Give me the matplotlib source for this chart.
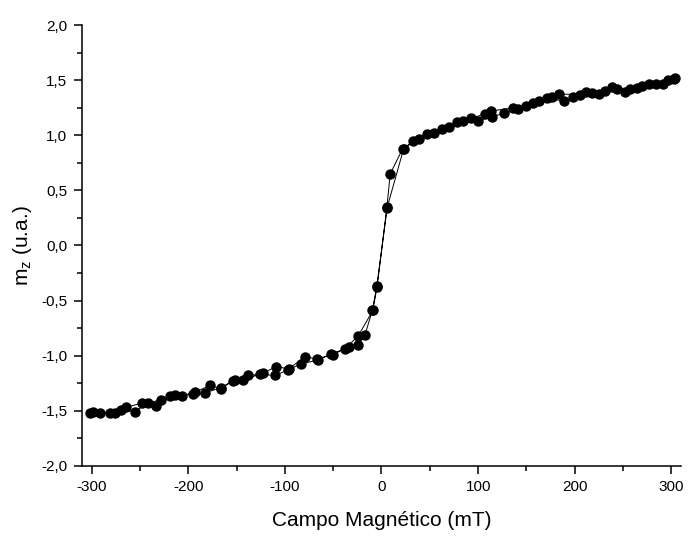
import matplotlib
matplotlib.use("Agg")
import matplotlib.pyplot as plt
from matplotlib.ticker import MultipleLocator, FuncFormatter

plt.rcParams['font.family'] = ['Liberation Sans', 'DejaVu Sans']

# ramo subindo (-300 -> 300)
campo_sobe = [-302, -291, -276, -264, -248, -233, -219, -206, -193, -177, -166,
              -154, -138, -126, -110, -97, -83, -66, -52, -38, -24, -9, -4.5,
              5.5, 9, 22, 39, 54, 70, 84, 100, 114, 127, 141, 157, 171, 189,
              198, 212, 225, 238, 252, 264, 277, 291, 303]
mz_sobe = [-1.52, -1.52, -1.52, -1.47, -1.43, -1.46, -1.37, -1.365, -1.33, -1.27,
           -1.30, -1.23, -1.18, -1.17, -1.18, -1.13, -1.075, -1.04, -0.985, -0.94,
           -0.82, -0.59, -0.37, 0.34, 0.65, 0.88, 0.97, 1.02, 1.08, 1.13, 1.13,
           1.17, 1.20, 1.235, 1.29, 1.34, 1.31, 1.345, 1.39, 1.375, 1.44, 1.39,
           1.43, 1.465, 1.47, 1.51]

# ramo descendo (300 -> -300)
campo_desce = [304, 296, 284, 270, 257, 244, 231, 218, 205, 184, 176, 163, 150,
               136, 113, 107, 93, 78, 63, 47, 33, 23, 6, -5, -9.5, -17, -24, -34,
               -50, -67, -79, -96, -109, -123, -143, -152, -166, -183, -195, -214,
               -228, -242, -255, -270, -281, -298]
mz_desce = [1.52, 1.50, 1.47, 1.45, 1.42, 1.42, 1.40, 1.38, 1.37, 1.375, 1.35,
            1.31, 1.27, 1.25, 1.22, 1.19, 1.16, 1.12, 1.06, 1.01, 0.95, 0.88, 0.35,
            -0.38, -0.59, -0.81, -0.90, -0.92, -0.99, -1.03, -1.01, -1.12, -1.10,
            -1.16, -1.22, -1.22, -1.29, -1.34, -1.35, -1.36, -1.40, -1.43, -1.51,
            -1.49, -1.52, -1.51]

campo = campo_sobe + campo_desce
mz = mz_sobe + mz_desce

fig = plt.figure(figsize=(6.88, 5.36), dpi=100)
ax = fig.add_axes([0.119, 0.131, 0.871, 0.822])

ax.plot(campo, mz, '-', color='black', lw=0.7,
        marker='o', ms=6.5, mfc='black', mec='black')

ax.set_xlim(-310, 310)
ax.set_ylim(-2.0, 2.0)
ax.xaxis.set_major_locator(MultipleLocator(100))
ax.xaxis.set_minor_locator(MultipleLocator(50))
ax.yaxis.set_major_locator(MultipleLocator(0.5))
ax.yaxis.set_minor_locator(MultipleLocator(0.25))
ax.xaxis.set_major_formatter(FuncFormatter(lambda v, p: '%d' % round(v)))
ax.yaxis.set_major_formatter(FuncFormatter(lambda v, p: ('%.1f' % v).replace('.', ',')))

for s in ['top', 'right']:
    ax.spines[s].set_visible(False)
for s in ['left', 'bottom']:
    ax.spines[s].set_linewidth(1.1)

ax.tick_params(which='major', direction='out', length=6, width=1.1,
               labelsize=11, pad=4.5)
ax.tick_params(which='minor', direction='out', length=3.8, width=1.1)

ax.set_xlabel('Campo Magnético (mT)', fontsize=15, labelpad=12)
ax.set_ylabel(r'$\mathregular{m_z}$ (u.a.)', fontsize=15, labelpad=5)

fig.savefig('out.png', dpi=100)
